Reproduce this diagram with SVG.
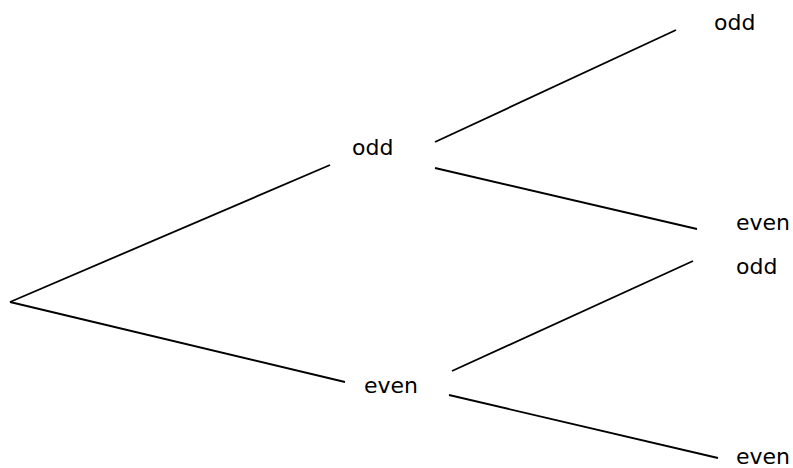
<svg xmlns="http://www.w3.org/2000/svg" width="793" height="468" viewBox="0 0 793 468">
<style>
.c line{stroke:#000;stroke-width:1.8;stroke-linecap:butt}
text{font-family:"DejaVu Sans",Verdana,sans-serif;font-size:22px;fill:#000}
</style>
<rect width="793" height="468" fill="#fff"/>
<g id="connectors" class="c">
<line x1="10" y1="302" x2="330" y2="165"/>
<line x1="10" y1="302" x2="345" y2="382"/>
<line x1="435" y1="142" x2="676" y2="30"/>
<line x1="435" y1="168" x2="697" y2="229"/>
<line x1="452" y1="371" x2="693" y2="261"/>
<line x1="449" y1="395" x2="718" y2="458"/>
</g>
<g id="n_odd"><text x="352" y="155">odd</text></g>
<g id="n_even"><text x="364" y="393">even</text></g>
<g id="n_odd_odd"><text x="714" y="30">odd</text></g>
<g id="n_odd_even"><text x="736" y="230">even</text></g>
<g id="n_even_odd"><text x="736" y="274">odd</text></g>
<g id="n_even_even"><text x="736" y="464">even</text></g>
</svg>
